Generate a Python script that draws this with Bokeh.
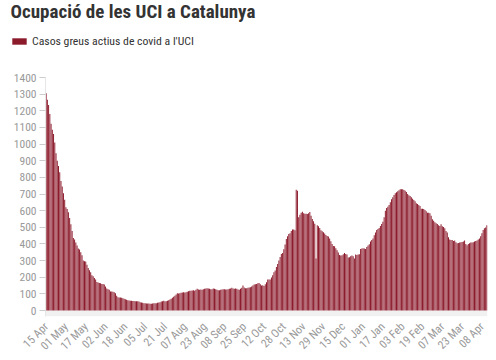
from math import pi
from bokeh.plotting import figure
from bokeh.layouts import column
from bokeh.models import (Range1d, FixedTicker, BoxAnnotation, Legend, LegendItem,
                          ColumnDataSource, Label)
from bokeh.embed import file_html
from bokeh.resources import INLINE

# Daily ICU occupancy (severe active covid cases), 15 Apr 2020 -> Apr 2021
values = [
    1306, 1266, 1235, 1180, 1122, 1086, 1060, 1010, 945, 900,
    868, 830, 778, 745, 705, 665, 620, 610, 590, 556,
    518, 478, 435, 426, 408, 390, 372, 366, 350, 332,
    300, 296, 294, 275, 255, 242, 230, 212, 206, 195,
    186, 172, 168, 166, 164, 160, 160, 156, 144, 132,
    128, 124, 114, 114, 112, 110, 104, 88, 80, 78,
    78, 76, 74, 70, 68, 64, 62, 60, 58, 58,
    57, 57, 56, 56, 55, 54, 50, 48, 46, 44,
    43, 42, 42, 42, 40, 40, 42, 44, 44, 44,
    46, 48, 50, 54, 56, 58, 56, 56, 58, 62,
    66, 70, 76, 82, 88, 96, 104, 102, 104, 106,
    108, 110, 108, 110, 112, 116, 118, 118, 120, 122,
    118, 124, 130, 126, 124, 126, 124, 128, 130, 132,
    134, 132, 130, 128, 128, 132, 130, 128, 124, 122,
    122, 124, 126, 128, 128, 126, 126, 128, 130, 132,
    136, 132, 130, 132, 130, 126, 124, 130, 136, 150,
    138, 134, 134, 136, 138, 140, 144, 150, 156, 158,
    160, 164, 166, 158, 150, 152, 148, 158, 170, 186,
    186, 186, 198, 212, 230, 240, 262, 280, 300, 322,
    340, 346, 368, 396, 430, 446, 460, 464, 478, 486,
    486, 482, 726, 720, 560, 576, 588, 594, 584, 582,
    582, 580, 584, 592, 570, 550, 536, 522, 312, 512,
    506, 496, 482, 476, 470, 462, 454, 448, 444, 432,
    416, 400, 388, 386, 374, 362, 348, 334, 330, 332,
    338, 346, 340, 336, 318, 320, 326, 330, 326, 312,
    336, 334, 336, 338, 370, 372, 374, 372, 370, 382,
    390, 398, 414, 424, 432, 452, 468, 484, 490, 496,
    508, 520, 534, 560, 600, 616, 624, 634, 650, 668,
    680, 694, 704, 710, 716, 722, 728, 728, 728, 724,
    720, 712, 700, 692, 688, 680, 672, 664, 656, 644,
    640, 634, 628, 612, 612, 610, 604, 596, 588, 588,
    584, 570, 548, 540, 530, 524, 520, 512, 508, 518,
    506, 502, 494, 478, 468, 440, 426, 424, 424, 418,
    420, 410, 404, 406, 408, 410, 412, 414, 420, 400,
    392, 400, 404, 408, 408, 410, 414, 418, 420, 426,
    432, 446, 464, 484, 494, 498, 512,
]

tick_labels = ["15 Apr", "01 May", "17 May", "02 Jun", "18 Jun", "05 Jul", "21 Jul",
               "07 Aug", "23 Aug", "08 Sep", "25 Sep", "12 Oct", "28 Oct", "13 Nov",
               "29 Nov", "15 Dec", "01 Jan", "17 Jan", "03 Feb", "19 Feb", "07 Mar",
               "23 Mar", "08 Apr"]
tick_every = 16

y_ticks = list(range(0, 1401, 100))
series_name = "Casos greus actius de covid a l'UCI"
title_text = "Ocupació de les UCI a Catalunya"

FONT = "Roboto Condensed"
BAR = "#8b1a2b"
W = 496
HEAD_H = 60

x = list(range(len(values)))
src = ColumnDataSource(dict(x=x, y=values))

# ---------------- header: title + legend ----------------
head = figure(width=W, height=HEAD_H, output_backend="svg", toolbar_location=None,
              x_range=Range1d(0, 1), y_range=Range1d(0, 1),
              x_axis_location=None, y_axis_location=None,
              min_border=0)
head.frame_align = False
head.outline_line_color = None
head.grid.visible = False
hr = head.vbar(x="x", top="y", width=0.8, source=src, fill_color=BAR,
               line_color=None, visible=False)

head.add_layout(Label(x=10, y=HEAD_H - 11, x_units="screen", y_units="screen",
                      text=title_text, text_font=FONT, text_font_size="19px",
                      text_font_style="bold", text_color="#333333",
                      text_baseline="middle", text_align="left"))

legend = Legend(items=[LegendItem(label=series_name, renderers=[hr])],
                location=(10, 12), orientation="horizontal")
legend.label_text_font = FONT
legend.label_text_font_size = "11.75px"
legend.label_text_color = "#333333"
legend.glyph_width = 18
legend.glyph_height = 8
legend.border_line_color = None
legend.background_fill_alpha = 0
legend.padding = 0
legend.margin = 0
legend.spacing = 4
legend.label_standoff = 4
head.add_layout(legend)

# ---------------- chart ----------------
p = figure(width=W, height=360 - HEAD_H, output_backend="svg", toolbar_location=None,
           x_range=Range1d(-0.5, len(values) - 0.5), y_range=Range1d(-36, 1400),
           min_border_left=45, min_border_right=9, min_border_bottom=44,
           min_border_top=77 - HEAD_H)
p.frame_align = False

p.outline_line_color = None
p.grid.visible = False
p.background_fill_color = "white"

p.add_layout(BoxAnnotation(top=0, fill_color="#f1f1f1", fill_alpha=1.0,
                           line_color=None, level="underlay"))

p.vbar(x="x", top="y", bottom=0, width=0.8, source=src,
       fill_color=BAR, line_color=None)

# y axis
ya = p.yaxis[0]
ya.ticker = FixedTicker(ticks=y_ticks)
ya.major_label_text_font = FONT
ya.major_label_text_font_size = "11.5px"
ya.major_label_text_color = "#999999"
ya.axis_line_color = "#e6e6e6"
ya.major_tick_line_color = "#cccccc"
ya.major_tick_in = 0
ya.major_tick_out = 6
ya.minor_tick_line_color = None
ya.major_label_standoff = 3

# x axis
xa = p.xaxis[0]
xticks = [i * tick_every for i in range(len(tick_labels))]
xa.ticker = FixedTicker(ticks=xticks)
xa.major_label_overrides = {t: lab for t, lab in zip(xticks, tick_labels)}
xa.major_label_orientation = pi / 4
xa.major_label_text_font = FONT
xa.major_label_text_font_size = "11.5px"
xa.major_label_text_color = "#999999"
xa.axis_line_color = None
xa.major_tick_line_color = None
xa.minor_tick_line_color = None
xa.major_label_standoff = 2

layout = column(head, p, spacing=0)
open("out.html", "w").write(file_html(layout, INLINE))
